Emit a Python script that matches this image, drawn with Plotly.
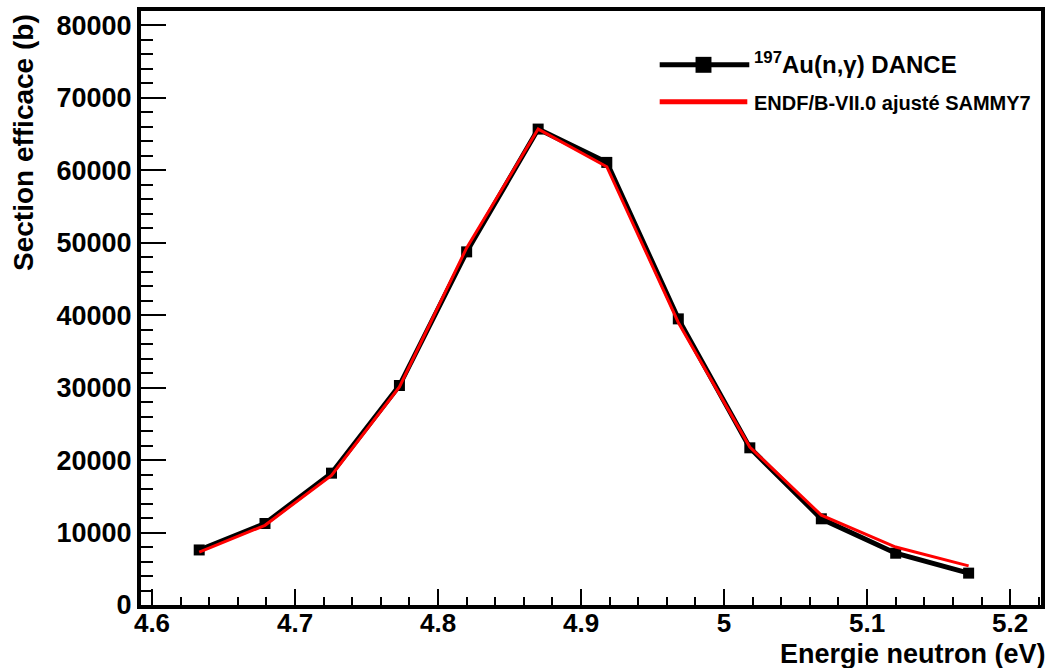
import plotly.graph_objects as go

# Data
energy_ev = [4.633, 4.679, 4.7255, 4.773, 4.820, 4.870, 4.918, 4.968, 5.018, 5.068, 5.120, 5.171]
xs_dance = [7600, 11250, 18200, 30300, 48750, 65700, 61100, 39500, 21700, 11900, 7150, 4400]
xs_endf = [7300, 11000, 17900, 30100, 49300, 65700, 60500, 39000, 21800, 12400, 8000, 5400]

x_tick_vals = [4.6, 4.7, 4.8, 4.9, 5.0, 5.1, 5.2]
x_tick_text = ["4.6", "4.7", "4.8", "4.9", "5", "5.1", "5.2"]
y_tick_vals = [0, 10000, 20000, 30000, 40000, 50000, 60000, 70000, 80000]
y_tick_text = ["0", "10000", "20000", "30000", "40000", "50000", "60000", "70000", "80000"]

label_dance = "<sup>197</sup>Au(n,γ) DANCE"
label_endf = "ENDF/B-VII.0 ajusté SAMMY7"
x_title = "Energie neutron (eV)"
y_title = "Section efficace (b)"

W, H = 1052, 668
L, R, T, B = 141, 7, 9, 63
PW, PH = W - L - R, H - T - B

def px(x):
    return (x - L) / PW

def py(y):
    return (H - B - y) / PH

FONT = "Liberation Sans, Arial, sans-serif"

fig = go.Figure()
fig.add_trace(go.Scatter(
    x=energy_ev, y=xs_dance, mode="lines+markers", name=label_dance,
    line=dict(color="black", width=5),
    marker=dict(symbol="square", size=11, color="black"),
    showlegend=False,
))
fig.add_trace(go.Scatter(
    x=energy_ev, y=xs_endf, mode="lines", name=label_endf,
    line=dict(color="#ff0000", width=3),
    showlegend=False,
))

fig.update_xaxes(
    range=[4.5923, 5.2216], tickvals=x_tick_vals, ticktext=x_tick_text,
    ticks="inside", ticklen=16, tickwidth=1.5, tickcolor="black",
    minor=dict(dtick=0.02, ticks="inside", ticklen=8, tickwidth=1.5, tickcolor="black"),
    showline=True, linewidth=4, linecolor="black", mirror=True,
    showgrid=False, zeroline=False, ticklabelstandoff=-8,
    tickfont=dict(family=FONT, size=26, color="black", weight="bold"),
)
fig.update_yaxes(
    range=[0, 82000], tickvals=y_tick_vals, ticktext=y_tick_text,
    ticks="inside", ticklen=25, tickwidth=1.5, tickcolor="black",
    minor=dict(dtick=2000, ticks="inside", ticklen=12, tickwidth=1.5, tickcolor="black"),
    showline=True, linewidth=4, linecolor="black", mirror=True,
    showgrid=False, zeroline=False,
    tickfont=dict(family=FONT, size=27, color="black", weight="bold"),
)

# Custom legend
fig.add_shape(type="line", xref="paper", yref="paper",
              x0=px(662), x1=px(752), y0=py(63), y1=py(63),
              line=dict(color="black", width=5))
fig.add_shape(type="rect", xref="paper", yref="paper",
              x0=px(698), x1=px(714), y0=py(55), y1=py(71),
              line=dict(width=0), fillcolor="black")
fig.add_shape(type="line", xref="paper", yref="paper",
              x0=px(662), x1=px(750), y0=py(100), y1=py(100),
              line=dict(color="#ff0000", width=5))
fig.add_annotation(xref="paper", yref="paper", x=px(755), y=py(61),
                   xanchor="left", yanchor="middle", showarrow=False,
                   text=label_dance,
                   font=dict(family=FONT, size=24, color="black", weight="bold"))
fig.add_annotation(xref="paper", yref="paper", x=px(755), y=py(101),
                   xanchor="left", yanchor="middle", showarrow=False,
                   text=label_endf,
                   font=dict(family=FONT, size=20, color="black", weight="bold"))

# Axis titles
fig.add_annotation(xref="paper", yref="paper", x=px(1052), y=py(654),
                   xanchor="right", yanchor="middle", showarrow=False,
                   text=x_title,
                   font=dict(family=FONT, size=27, color="black", weight="bold"))
fig.add_annotation(xref="paper", yref="paper", x=px(23), y=py(10),
                   xanchor="center", yanchor="top", showarrow=False,
                   textangle=-90, text=y_title,
                   font=dict(family=FONT, size=28, color="black", weight="bold"))

fig.update_layout(
    width=W, height=H,
    margin=dict(l=L, r=R, t=T, b=B, pad=0),
    paper_bgcolor="white", plot_bgcolor="white",
    showlegend=False,
)

fig.write_html(
    "out.html",
    config={"displayModeBar": False},
    post_script="document.body.style.margin='0';document.body.style.overflow='hidden';",
)
